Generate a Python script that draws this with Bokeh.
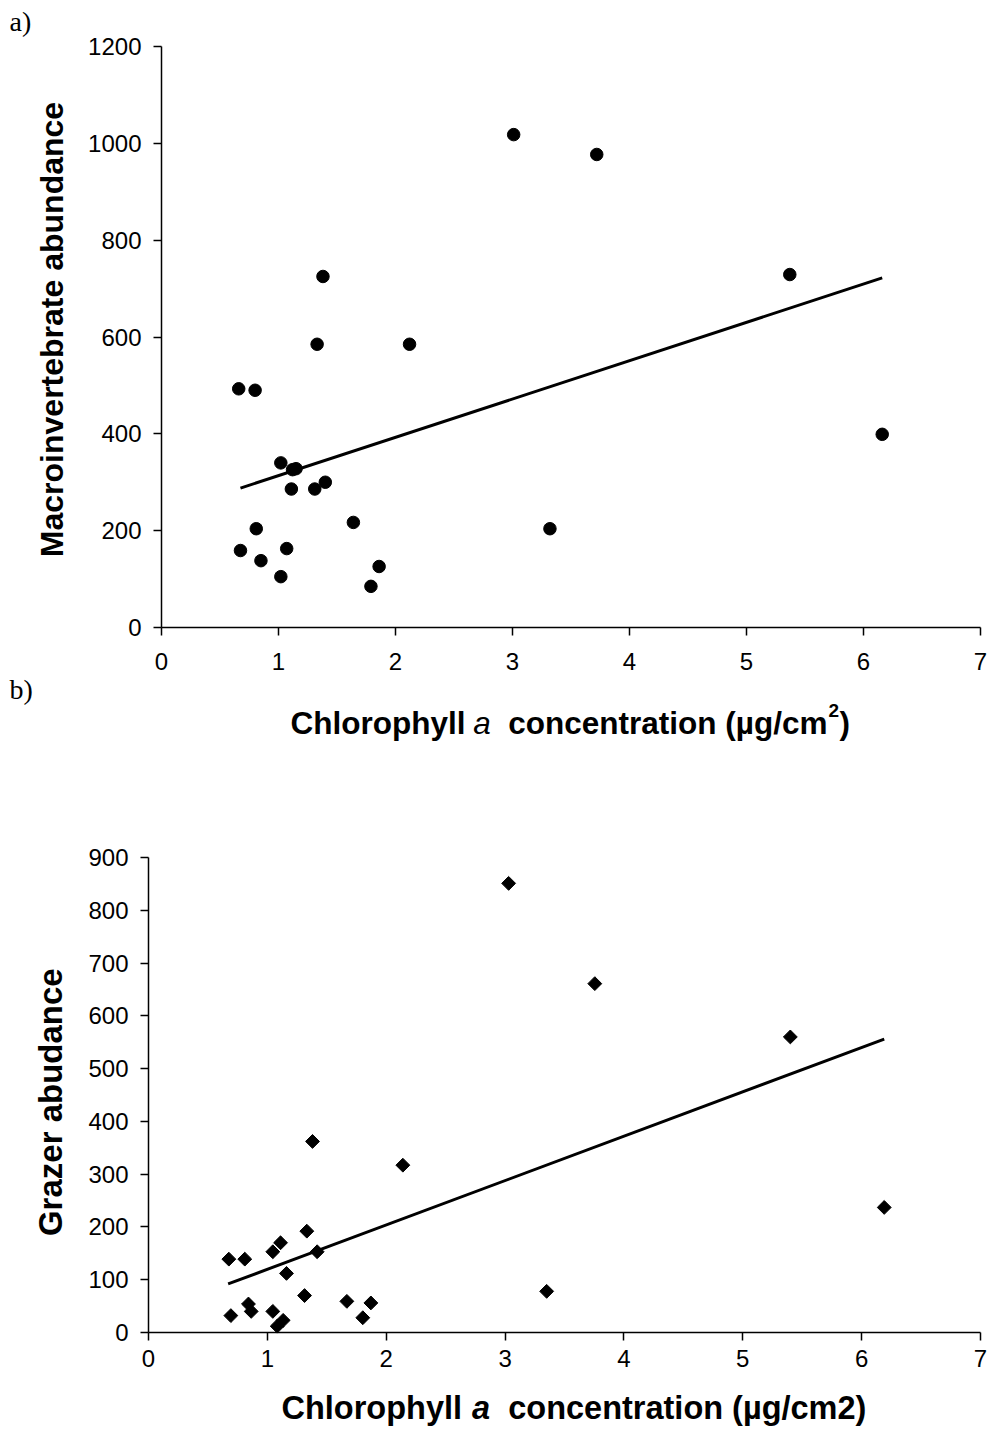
import math
from bokeh.plotting import figure
from bokeh.models import Range1d, FixedTicker, Label, LinearAxis
from bokeh.embed import file_html
from bokeh.resources import INLINE

# ---------------- data ----------------
# panel a) macroinvertebrate abundance vs chlorophyll a
chl_a = [0.66, 0.675, 0.80, 0.81, 0.85, 1.02, 1.02, 1.07, 1.11, 1.12, 1.15, 1.31,
         1.33, 1.38, 1.40, 1.64, 1.79, 1.86, 2.12, 3.01, 3.32, 3.72, 5.37, 6.16]
macro = [493, 159, 490, 204, 138, 340, 105, 163, 286, 326, 328, 286,
         585, 725, 300, 217, 85, 126, 585, 1018, 204, 977, 729, 399]
fit_chl_a = [0.675, 6.16]
fit_macro = [288, 722]

# panel b) grazer abundance vs chlorophyll a
chl_b = [0.676, 0.693, 0.81, 0.841, 0.864, 1.046, 1.046, 1.083, 1.111, 1.133, 1.161, 1.313,
         1.332, 1.38, 1.419, 1.669, 1.803, 1.871, 2.14, 3.03, 3.35, 3.755, 5.40, 6.19]
grazer = [139, 32, 139, 54, 40, 153, 40, 12, 170, 23, 112, 70,
          192, 362, 153, 59, 28, 56, 317, 851, 78, 661, 560, 237]
fit_chl_b = [0.67, 6.19]
fit_grazer = [92, 556]

x_ticks = [0, 1, 2, 3, 4, 5, 6, 7]
y_ticks_a = [0, 200, 400, 600, 800, 1000, 1200]
y_ticks_b = [0, 100, 200, 300, 400, 500, 600, 700, 800, 900]
X_MAX, YA_MAX, YB_MAX = 7, 1200, 900

# ---------------- layout (page pixels) ----------------
W, H = 993, 1444
A_L, A_R, A_T, A_B = 161, 980, 46, 627      # panel a plot area
B_L, B_R, B_T, B_B = 148, 980, 857, 1332    # panel b plot area
FONT = "Liberation Sans"
SERIF = "Liberation Serif"


def rng(p0, p1, v1, total, flip=False):
    """Range whose value 0 sits at page pixel p0 and v1 at p1 (frame = whole page)."""
    if flip:  # vertical: page pixels grow downward
        p0, p1 = total - p0, total - p1
    k = (p1 - p0) / v1
    return Range1d(-p0 / k, (total - p0) / k)


p = figure(width=W, height=H, output_backend="svg", toolbar_location=None,
           x_range=rng(A_L, A_R, X_MAX, W), y_range=rng(A_B, A_T, YA_MAX, H, True),
           min_border=0, min_border_left=0, min_border_right=0,
           min_border_top=0, min_border_bottom=0)
p.extra_x_ranges = {"xb": rng(B_L, B_R, X_MAX, W)}
p.extra_y_ranges = {"yb": rng(B_B, B_T, YB_MAX, H, True)}
p.grid.visible = False
p.outline_line_color = None

ax_xa = p.xaxis[0]
ax_ya = p.yaxis[0]
ax_xb = LinearAxis(x_range_name="xb", y_range_name="yb")
ax_yb = LinearAxis(x_range_name="xb", y_range_name="yb")
p.add_layout(ax_xb, "below")
p.add_layout(ax_yb, "left")

for ax in (ax_xa, ax_ya, ax_xb, ax_yb):
    ax.fixed_location = 0
    ax.axis_line_color = "black"
    ax.axis_line_width = 1.5
    ax.major_tick_line_color = "black"
    ax.major_tick_line_width = 1.5
    ax.major_tick_in = 0
    ax.major_tick_out = 8
    ax.minor_tick_line_color = None
    ax.major_label_text_font = FONT
    ax.major_label_text_font_size = "24px"
    ax.major_label_text_color = "black"

ax_xa.ticker = FixedTicker(ticks=x_ticks)
ax_xb.ticker = FixedTicker(ticks=x_ticks)
ax_ya.ticker = FixedTicker(ticks=y_ticks_a)
ax_yb.ticker = FixedTicker(ticks=y_ticks_b)
ax_xa.bounds = (0, X_MAX)
ax_xb.bounds = (0, X_MAX)
ax_ya.bounds = (0, YA_MAX)
ax_yb.bounds = (0, YB_MAX)
ax_xa.major_label_standoff = 17
ax_xb.major_label_standoff = 9
ax_ya.major_label_standoff = 12
ax_yb.major_label_standoff = 12

# ---------- marks ----------
p.line(fit_chl_a, fit_macro, line_color="black", line_width=3)
p.scatter(chl_a, macro, marker="circle", size=12.5, color="black")
p.line(fit_chl_b, fit_grazer, line_color="black", line_width=3,
       x_range_name="xb", y_range_name="yb")
p.scatter(chl_b, grazer, marker="square", angle=math.pi / 4, size=9.8, color="black",
          x_range_name="xb", y_range_name="yb")


# ---------- texts ----------
def fxa(px):
    return (px - A_L) * X_MAX / (A_R - A_L)


def fya(py):
    return (A_B - py) * YA_MAX / (A_B - A_T)


def fxb(px):
    return (px - B_L) * X_MAX / (B_R - B_L)


def fyb(py):
    return (B_B - py) * YB_MAX / (B_B - B_T)


def lab(x, y, text, size, style="bold", font=FONT, angle=0.0,
        align="left", baseline="alphabetic", panel="a"):
    kw = {}
    if panel == "b":
        kw = dict(x_range_name="xb", y_range_name="yb")
    p.add_layout(Label(x=x, y=y, text=text, text_font=font,
                       text_font_size=f"{size}px", text_font_style=style,
                       angle=angle, text_align=align, text_baseline=baseline,
                       text_color="black", **kw))


lab(fxa(9), fya(21), "a)", 28, style="normal", font=SERIF)
lab(fxa(9), fya(689), "b)", 28, style="normal", font=SERIF)
lab(fxa(51), fya(329), "Macroinvertebrate abundance", 32, angle=math.pi / 2,
    align="center", baseline="middle")
base_a = 722
lab(fxa(290), fya(base_a), "Chlorophyll", 31.5)
lab(fxa(472.8), fya(base_a), "a", 31.5, style="italic")
lab(fxa(507.8), fya(base_a), "concentration (µg/cm", 31.5)
lab(fxa(828.0), fya(base_a - 12), "2", 19)
lab(fxa(839.0), fya(base_a), ")", 31.5)

lab(fxb(50), fyb(1101.7), "Grazer abudance", 33, angle=math.pi / 2,
    align="center", baseline="middle", panel="b")
base_b = 1407
lab(fxb(281), fyb(base_b), "Chlorophyll", 32.5, panel="b")
lab(fxb(471.6), fyb(base_b), "a", 32.5, style="bold italic", panel="b")
lab(fxb(507.7), fyb(base_b), "concentration (µg/cm2)", 32.5, panel="b")

open("out.html", "w").write(file_html(p, INLINE))
